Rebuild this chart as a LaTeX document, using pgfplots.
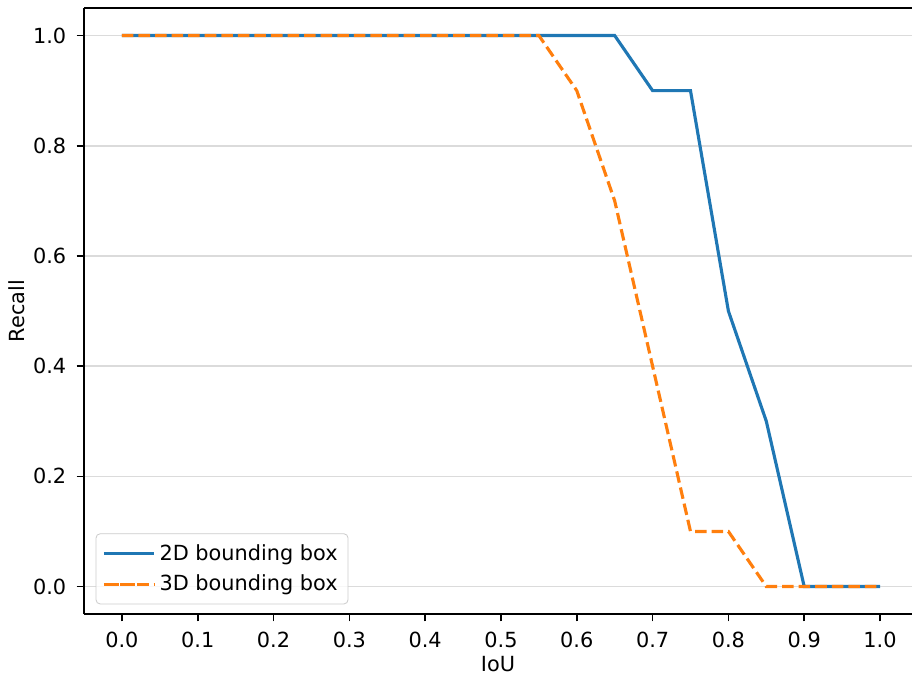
\documentclass[border=0pt]{standalone}
\usepackage{pgfplots}
\pgfplotsset{compat=1.18}
\usepackage{fontspec}
\setmainfont{DejaVu Sans}
\definecolor{tabblue}{HTML}{1F77B4}
\definecolor{taborange}{HTML}{FF7F0E}
\begin{document}
\begin{tikzpicture}
\begin{axis}[
  scale only axis,
  width=397.4pt, height=290.9pt,
  xmin=-0.05, xmax=1.0422, ymin=-0.05, ymax=1.05,
  axis x line=box, axis y line*=left,
  xtick={0,0.1,...,1.0}, ytick={0,0.2,...,1.0},
  xtick pos=bottom, ytick pos=left,
  tick align=outside,
  major tick length=3.5pt,
  every tick/.style={black, line width=0.8pt},
  axis line style={black, line width=0.8pt},
  tick label style={font=\fontsize{10}{12}\selectfont},
  /pgf/number format/assume math mode=true,
  /pgf/number format/fixed, /pgf/number format/fixed zerofill, /pgf/number format/precision=1,
  xticklabel style={yshift=-1.5pt},
  yticklabel style={xshift=-1.5pt},
  ymajorgrids,
  grid style={color=black!14, line width=0.8pt},
  xlabel={IoU}, ylabel={Recall},
  label style={font=\fontsize{10}{12}\selectfont},
  xlabel style={yshift=2.5pt},
  ylabel style={yshift=-3pt},
  legend cell align=left,
  legend style={font=\fontsize{10}{12}\selectfont, draw=black!20, rounded corners=2pt, fill=white, fill opacity=0.8, text opacity=1, at={(0.014,0.016)}, anchor=south west, inner xsep=3pt, inner ysep=3pt, row sep=1.5pt},
  legend image code/.code={\path (0pt,0pt) -- (24pt,0pt); \draw[#1] (1.5pt,0pt) -- (21.5pt,0pt);},
  clip=true,
]
\addplot[tabblue, line width=1.5pt] coordinates {
(0.0,1.0) (0.05,1.0) (0.1,1.0) (0.15,1.0) (0.2,1.0) (0.25,1.0) (0.3,1.0) (0.35,1.0) (0.4,1.0) (0.45,1.0) (0.5,1.0) (0.55,1.0) (0.6,1.0) (0.65,1.0) (0.7,0.9) (0.75,0.9) (0.8,0.5) (0.85,0.3) (0.9,0.0) (0.95,0.0) (1.0,0.0)};
\addlegendentry{2D bounding box}
\addplot[taborange, line width=1.5pt, dash pattern=on 5.55pt off 2.4pt] coordinates {
(0.0,1.0) (0.05,1.0) (0.1,1.0) (0.15,1.0) (0.2,1.0) (0.25,1.0) (0.3,1.0) (0.35,1.0) (0.4,1.0) (0.45,1.0) (0.5,1.0) (0.55,1.0) (0.6,0.9) (0.65,0.7) (0.7,0.4) (0.75,0.1) (0.8,0.1) (0.85,0.0) (0.9,0.0) (0.95,0.0) (1.0,0.0)};
\addlegendentry{3D bounding box}
\coordinate (ll) at (rel axis cs:0,0);
\coordinate (ur) at (rel axis cs:1,1);
\end{axis}
\pgfresetboundingbox
\path[use as bounding box] ([shift={(-40.32pt,-30.24pt)}]ll) rectangle ([shift={(0pt,3.84pt)}]ur);
\end{tikzpicture}
\end{document}
